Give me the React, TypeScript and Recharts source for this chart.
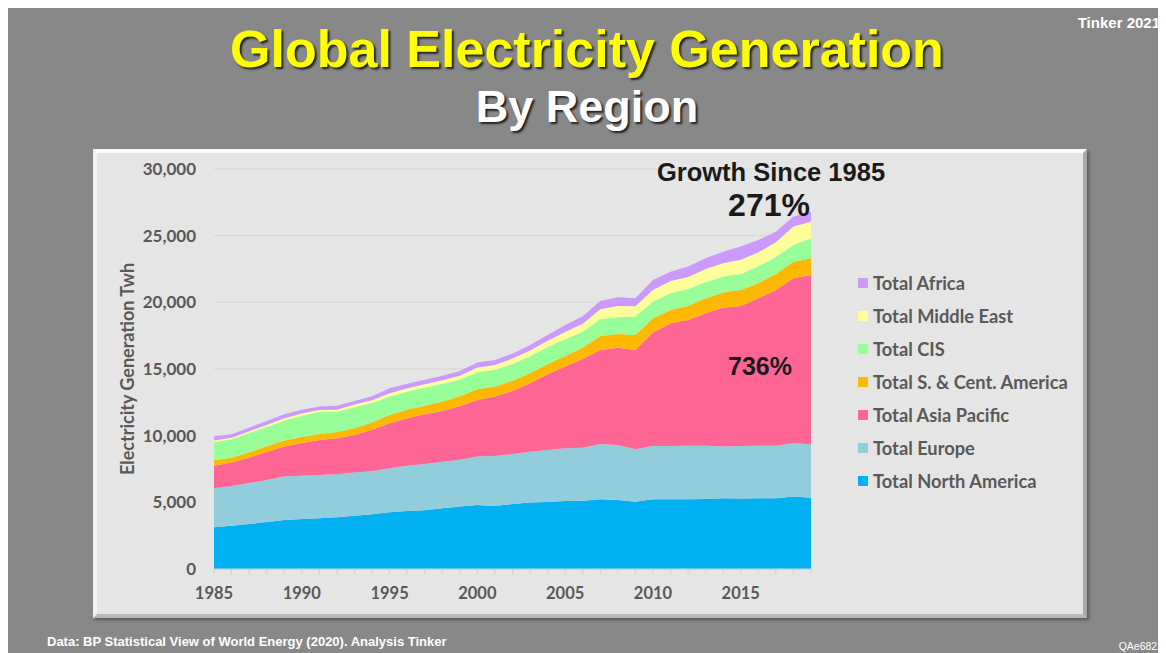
import { AreaChart, Area, XAxis, YAxis, CartesianGrid } from 'recharts';

// Electricity generation by region, TWh
const years = [
  1985, 1986, 1987, 1988, 1989, 1990, 1991, 1992, 1993, 1994, 1995, 1996,
  1997, 1998, 1999, 2000, 2001, 2002, 2003, 2004, 2005, 2006, 2007, 2008,
  2009, 2010, 2011, 2012, 2013, 2014, 2015, 2016, 2017, 2018, 2019,
];
const northAmerica = [
  3130, 3250, 3380, 3520, 3680, 3750, 3800, 3880, 4000, 4100, 4250, 4350,
  4400, 4550, 4680, 4800, 4730, 4880, 4980, 5030, 5100, 5120, 5230, 5180,
  5050, 5230, 5230, 5230, 5250, 5300, 5280, 5300, 5300, 5430, 5350,
];
const europe = [
  2920, 2980, 3070, 3160, 3250, 3250, 3250, 3220, 3230, 3230, 3300, 3400,
  3480, 3500, 3520, 3630, 3750, 3740, 3820, 3900, 3950, 3980, 4150, 4120,
  3930, 4000, 4000, 4020, 4000, 3880, 3950, 3950, 3950, 4000, 4000,
];
const asiaPacific = [
  1700, 1750, 1900, 2100, 2250, 2450, 2630, 2700, 2820, 3120, 3380, 3550,
  3720, 3800, 4000, 4250, 4450, 4730, 5130, 5670, 6130, 6650, 7050, 7300,
  7450, 8500, 9200, 9430, 9930, 10420, 10500, 11050, 11680, 12370, 12700,
];
const scAmerica = [
  400, 370, 400, 420, 450, 450, 450, 480, 500, 530, 620, 650,
  650, 700, 750, 800, 750, 770, 750, 750, 800, 850, 1050, 1030,
  1120, 1070, 1000, 1050, 1120, 1130, 1200, 1130, 1200, 1250, 1250,
];
const cis = [
  1350, 1380, 1450, 1450, 1500, 1600, 1670, 1520, 1580, 1470, 1380, 1350,
  1350, 1350, 1250, 1270, 1270, 1260, 1270, 1300, 1250, 1200, 1270, 1250,
  1380, 1250, 1250, 1270, 1200, 1200, 1200, 1270, 1270, 1250, 1500,
];
const middleEast = [
  130, 110, 130, 150, 170, 160, 130, 150, 200, 200, 250, 250,
  250, 250, 300, 370, 350, 400, 430, 470, 550, 600, 730, 850,
  770, 880, 920, 900, 1000, 1000, 1070, 1050, 1100, 1380, 1250,
];
const africa = [
  300, 260, 270, 300, 300, 280, 250, 300, 270, 300, 370, 350,
  350, 350, 350, 360, 380, 370, 420, 430, 520, 550, 620, 650,
  600, 750, 700, 780, 800, 870, 980, 930, 800, 750, 750,
];

const seriesNames = [
  'Total North America',
  'Total Europe',
  'Total Asia Pacific',
  'Total S. & Cent. America',
  'Total CIS',
  'Total Middle East',
  'Total Africa',
];
const seriesColors = ['#00b0f0', '#92cddc', '#ff6695', '#ffb800', '#99ff99', '#ffff99', '#cc99ff'];
const seriesValues = [northAmerica, europe, asiaPacific, scAmerica, cis, middleEast, africa];

const xTickLabels = [1985, 1990, 1995, 2000, 2005, 2010, 2015];
const yTicks = [0, 5000, 10000, 15000, 20000, 25000, 30000];

const data = years.map((year, i) => {
  const row: Record<string, number> = { year };
  seriesNames.forEach((name, s) => {
    row[name] = seriesValues[s][i];
  });
  return row;
});

const CHART_W = 992;
const CHART_H = 468;
const margin = { top: 20, right: 274, bottom: 18, left: 0 };
const X_AXIS_H = 30;
const Y_AXIS_W = 121;

const axisFont = { fill: '#595959', fontSize: 16.5, fontWeight: 700, fontFamily: 'Lato, sans-serif' };

// rotated axis title, centred on the plot's vertical middle
const YTitle = () => {
  const cx = margin.left + 34;
  const cy = margin.top + (CHART_H - margin.top - margin.bottom - X_AXIS_H) / 2;
  return (
    <text
      x={cx}
      y={cy}
      transform={`rotate(-90, ${cx}, ${cy})`}
      textAnchor="middle"
      dominantBaseline="central"
      fill="#595959"
      fontSize={18}
      fontWeight={700}
      fontFamily="Lato, sans-serif"
    >
      Electricity Generation Twh
    </text>
  );
};

export default function App() {
  return (
    <div
      style={{
        position: 'relative',
        width: 1158,
        height: 645,
        background: '#888888',
        overflow: 'hidden',
        fontFamily: '"Liberation Sans", Arial, sans-serif',
      }}
    >
      <style>{'body{overflow:hidden}'}</style>

      <div style={{ position: 'absolute', top: 6, right: 6, color: '#fff', fontWeight: 700, fontSize: 15 }}>
        Tinker 2021
      </div>
      <div
        style={{
          position: 'absolute',
          top: 15,
          left: 0,
          width: '100%',
          textAlign: 'center',
          color: '#ffff00',
          fontWeight: 700,
          fontSize: 52,
          lineHeight: 1,
          textShadow: '2px 2px 2px #222',
        }}
      >
        Global Electricity Generation
      </div>
      <div
        style={{
          position: 'absolute',
          top: 76,
          left: 0,
          width: '100%',
          textAlign: 'center',
          color: '#fff',
          fontWeight: 700,
          fontSize: 45,
          lineHeight: 1,
          textShadow: '2px 2px 2px #222',
        }}
      >
        By Region
      </div>

      {/* bevelled panel */}
      <div
        style={{
          position: 'absolute',
          left: 85,
          top: 141,
          width: 994,
          height: 469,
          boxSizing: 'border-box',
          background: '#e5e5e5',
          borderTop: '4px solid #fbfbfb',
          borderLeft: '4px solid #f2f2f2',
          borderRight: '4px solid #a8a8a8',
          borderBottom: '4px solid #b8b8b8',
          boxShadow: '2px 2px 3px rgba(0,0,0,0.35)',
        }}
      />

      <div style={{ position: 'absolute', left: 85, top: 141 }}>
        <AreaChart width={CHART_W} height={CHART_H} data={data} margin={margin}>
          <CartesianGrid vertical={false} stroke="#d6d6d6" />
          <XAxis
            dataKey="year"
            type="number"
            domain={[1985, 2019]}
            ticks={years}
            tickFormatter={(v: number) => (xTickLabels.includes(v) ? String(v) : '')}
            interval={0}
            height={X_AXIS_H}
            stroke="#d0d0d0"
            tickSize={5}
            tickMargin={13}
            tick={axisFont}
          />
          <YAxis
            domain={[0, 30000]}
            ticks={yTicks}
            width={Y_AXIS_W}
            axisLine={false}
            tickLine={false}
            tickSize={0}
            tickMargin={18}
            tick={{ ...axisFont, fontSize: 17 }}
            tickFormatter={(v: number) => v.toLocaleString('en-US')}
            label={{ content: YTitle }}
          />
          {seriesNames.map((name, s) => (
            <Area
              key={name}
              type="linear"
              dataKey={name}
              stackId="1"
              stroke="none"
              fill={seriesColors[s]}
              fillOpacity={1}
              isAnimationActive={false}
            />
          ))}
        </AreaChart>
      </div>

      {/* legend, top item = top of the stack */}
      <div style={{ position: 'absolute', left: 850, top: 258, fontFamily: 'Lato, sans-serif' }}>
        {[...seriesNames].reverse().map((name) => (
          <div key={name} style={{ display: 'flex', alignItems: 'center', height: 33 }}>
            <span
              style={{
                width: 10,
                height: 10,
                background: seriesColors[seriesNames.indexOf(name)],
                marginRight: 5,
                display: 'inline-block',
              }}
            />
            <span style={{ color: '#595959', fontSize: 18.3, fontWeight: 700 }}>{name}</span>
          </div>
        ))}
      </div>

      <div style={{ position: 'absolute', left: 563, top: 152, width: 400, textAlign: 'center', color: '#1a1a1a', fontWeight: 700, fontSize: 25.5, lineHeight: 1 }}>
        Growth Since 1985
      </div>
      <div style={{ position: 'absolute', left: 561, top: 181, width: 400, textAlign: 'center', color: '#1a1a1a', fontWeight: 700, fontSize: 32, lineHeight: 1 }}>
        271%
      </div>
      <div style={{ position: 'absolute', left: 552, top: 346, width: 400, textAlign: 'center', color: '#1a1a1a', fontWeight: 700, fontSize: 25, lineHeight: 1 }}>
        736%
      </div>

      <div style={{ position: 'absolute', left: 39, top: 626, color: '#fff', fontWeight: 700, fontSize: 13 }}>
        Data: BP Statistical View of World Energy (2020). Analysis Tinker
      </div>
      <div style={{ position: 'absolute', right: 3, top: 632, color: '#fff', fontSize: 10.5 }}>
        QAe6822
      </div>
    </div>
  );
}
